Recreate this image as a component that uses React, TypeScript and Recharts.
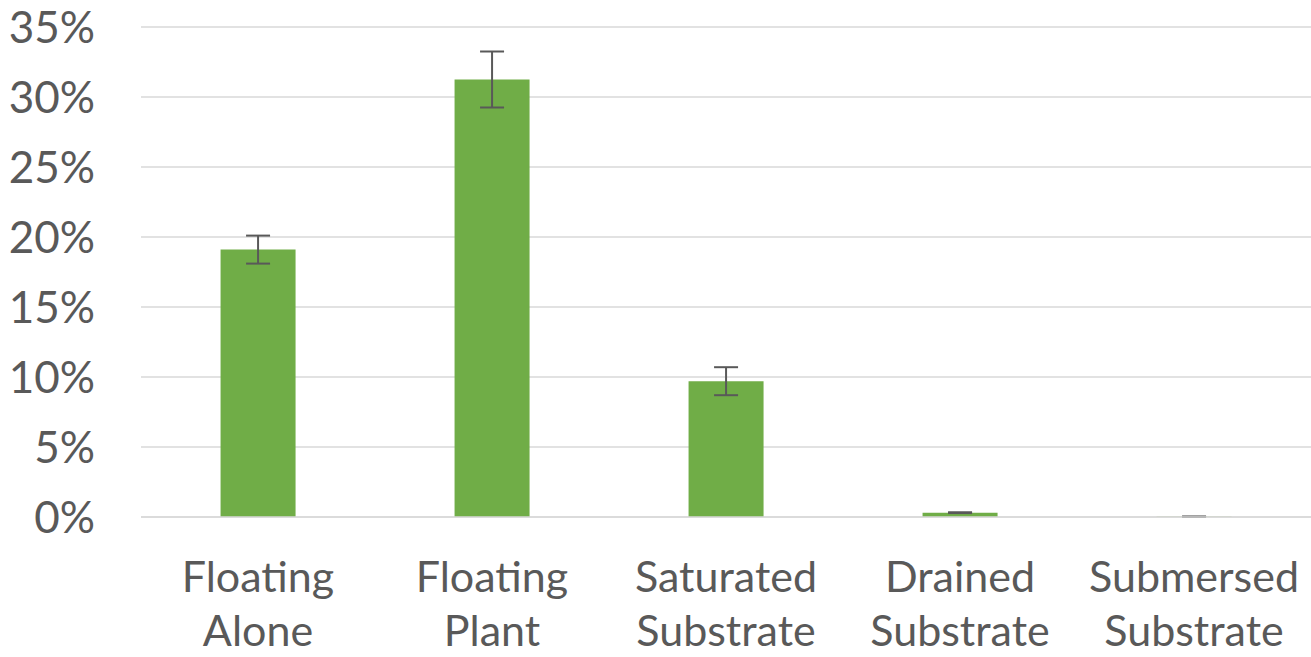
import { BarChart, Bar, XAxis, YAxis, CartesianGrid, ErrorBar } from 'recharts'

const categories = ['Floating Alone', 'Floating Plant', 'Saturated Substrate', 'Drained Substrate', 'Submersed Substrate']
const values = [0.191, 0.3125, 0.097, 0.0031, 0.0002]
const errors = [0.01, 0.02, 0.01, 0.0003, 0.0002]
const yTicks = [0, 0.05, 0.1, 0.15, 0.2, 0.25, 0.3, 0.35]

const data = categories.map((name, i) => ({ name, value: values[i], err: errors[i] }))

const FONT = 'Lato, "Open Sans", sans-serif'

function CategoryTick(props: any) {
    const { x, y, payload } = props
    const words = String(payload.value).split(' ')
    return (
        <text x={x} y={y} textAnchor='middle' fill='#595959' fontSize={43} fontFamily={FONT}>
            {words.map((w: string, i: number) => (
                <tspan key={i} x={x} dy={i === 0 ? 67 : 54}>
                    {w}
                </tspan>
            ))}
        </text>
    )
}

export default function App() {
    return (
        <div style={{ position: 'absolute', left: 0, top: 0, background: '#fff' }}>
            <BarChart
                width={1311}
                height={657}
                data={data}
                margin={{ top: 27, right: 0, bottom: 0, left: 0 }}
                barCategoryGap='34%'
            >
                <CartesianGrid vertical={false} stroke='#d9d9d9' strokeWidth={1.5} />
                <XAxis
                    dataKey='name'
                    height={140}
                    axisLine={{ stroke: '#d9d9d9', strokeWidth: 1.5 }}
                    tickLine={false}
                    interval={0}
                    tick={<CategoryTick />}
                />
                <YAxis
                    width={141}
                    domain={[0, 0.35]}
                    ticks={yTicks}
                    axisLine={false}
                    tickLine={false}
                    tickSize={0}
                    tickMargin={46}
                    tickFormatter={(v: number) => `${Math.round(v * 100)}%`}
                    tick={{ fill: '#595959', fontSize: 44, fontFamily: FONT }}
                />
                <Bar dataKey='value' fill='#70ad47' isAnimationActive={false}>
                    <ErrorBar dataKey='err' width={12} stroke='#595959' strokeWidth={2} />
                </Bar>
            </BarChart>
        </div>
    )
}
